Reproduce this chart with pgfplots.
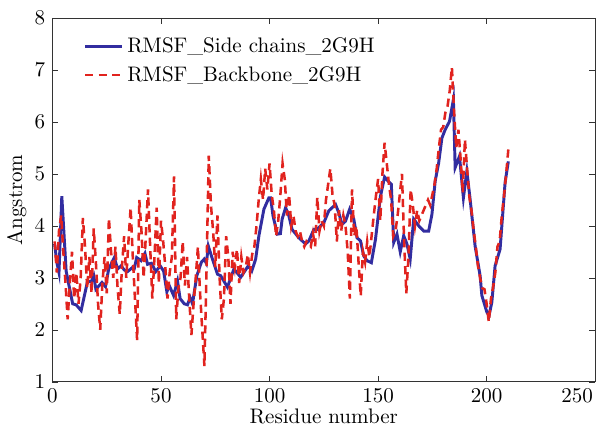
\documentclass[border=0pt]{standalone}
\usepackage{pgfplots}
\pgfplotsset{compat=1.18}
\definecolor{sideblue}{RGB}{50,45,160}
\definecolor{bbred}{RGB}{225,35,30}
\begin{document}
\begin{tikzpicture}
\begin{axis}[
  name=ax,
  scale only axis,
  width=9.07cm, height=6.08cm,
  xmin=0, xmax=250, ymin=1, ymax=8,
  xtick={0,50,...,200}, ytick={1,2,...,8},
  extra x ticks={250},
  extra x tick style={xticklabel style={xshift=-0.3cm}},
  tick align=inside, major tick length=0.1cm,
  xlabel={Residue number}, ylabel={Angstrom},
  xlabel style={yshift=4pt}, ylabel style={yshift=-3pt},
  axis line style={black!80}, tick style={black!80},
  legend style={at={(0.045,0.97)}, anchor=north west, draw=none, fill=none,
    row sep=1pt, font=\normalsize},
  legend cell align=left,
  legend image code/.code={\draw[#1] (0.05cm,0cm) -- (0.66cm,0cm);}]
\addplot[sideblue, line width=1.4pt] coordinates {
(1,3.65)(2,3.3)(3,3.1)(4.3,4.57)(6.3,3.13)(7,2.98)(9.3,2.5)(10.9,2.48)(13.2,2.37)
(16.2,2.94)(17.8,2.92)(19,3.04)(20,2.78)(22.8,2.91)(24.4,2.83)(25.9,3.17)(28.5,3.39)
(30,3.17)(31.6,3.23)(33.1,3.15)(34.6,3.12)(36.9,3.2)(37.7,3.18)(38.8,3.39)(40.8,3.33)
(42.6,3.47)(43.8,3.26)(45.6,3.28)(47.6,3.12)(49.6,3.23)(51.2,3.13)(52.7,2.73)(53.8,2.85)
(55.8,2.66)(57.6,2.94)(58.8,2.6)(60.7,2.5)(62.2,2.48)(63.4,2.62)(64.5,2.5)(66.5,3.04)
(68.6,3.3)(69.9,3.36)(70.9,3.28)(71.8,3.61)(73.7,3.36)(76,3.07)(77.5,3.04)(80.6,2.82)
(83.6,3.17)(86.7,3.01)(90.2,3.23)(91.8,3.13)(93.6,3.36)(95.1,3.81)(97.4,4.32)(99.7,4.54)
(100.5,4.54)(101.6,4.19)(103.6,3.84)(105,3.85)(105.8,4.13)(107.4,4.35)(108.9,4.19)
(110.4,3.93)(113.5,3.77)(116.6,3.65)(118.1,3.71)(120.4,3.93)(121.9,3.93)(125,4.06)
(127.3,4.29)(130.4,4.41)(131.9,4.25)(133.4,4.03)(135,4.09)(136.9,4.32)(138.8,4.13)
(140.3,3.77)(141.9,3.71)(143.4,3.42)(144.9,3.33)(146.9,3.29)(148.8,3.74)(151.1,4.57)
(153,4.94)(154.6,4.86)(156.1,4.80)(157.2,3.68)(158.7,3.84)(160.2,3.50)(161.8,3.81)
(163.3,3.65)(164.8,3.36)(166.4,4.13)(168.7,4.0)(171,3.9)(173.3,3.9)(174.8,4.22)
(176.3,4.86)(177.9,5.21)(179.4,5.69)(180.9,5.85)(182.9,6.01)(184.7,6.43)(185.5,5.12)
(187.5,5.34)(189.3,4.54)(190.9,5.05)(192.4,4.51)(194.7,3.61)(197,3.04)(197.8,2.66)
(200.1,2.34)(201.1,2.27)(202.4,2.53)(203.9,3.23)(206.2,3.55)(208.5,4.83)(210,5.24)};
\addlegendentry{RMSF\_Side chains\_2G9H}
\addplot[bbred, line width=1.2pt, dash pattern=on 3.9pt off 2.5pt] table {
1 3.7
2 3.1
3 3.9
4 4.2
5 3.5
6 2.9
7 2.2
8 2.9
9 3.5
10 2.6
11 3.1
12 2.5
13 3.0
14 4.15
15 3.6
16 2.8
17 3.4
18 2.7
19 3.95
20 3.3
21 2.5
22 2.0
23 2.9
24 3.4
25 2.7
26 4.15
27 3.5
28 3.0
29 3.6
30 2.8
31 2.3
32 3.2
33 3.8
34 3.0
35 3.7
36 4.35
37 3.4
38 2.6
39 1.8
40 4.5
41 3.9
42 3.0
43 3.8
44 4.7
45 3.6
46 2.6
47 3.4
48 4.35
49 2.9
50 4.1
51 3.7
52 3.2
53 2.6
54 3.1
55 3.4
56 4.95
57 2.2
58 2.8
59 3.0
60 3.7
61 2.85
62 3.4
63 2.6
64 1.9
65 2.5
66 3.0
67 3.6
68 2.7
69 2.0
70 1.3
71 3.2
72 5.35
73 4.4
74 3.9
75 3.2
76 4.2
77 3.0
78 2.2
79 2.6
80 3.8
81 3.4
82 2.5
83 3.5
84 3.2
85 3.55
86 2.9
87 3.4
88 3.1
89 3.2
90 3.45
91 3.1
92 3.45
93 3.6
94 4.0
95 4.5
96 4.9
97 4.5
98 5.1
99 4.7
100 5.2
101 4.6
102 4.3
103 3.8
104 4.1
105 4.6
106 5.2
107 4.9
108 4.2
109 4.6
110 4.0
111 4.2
112 3.9
113 3.8
114 3.9
115 3.7
116 3.6
117 3.7
118 3.65
119 3.6
120 3.85
121 3.6
122 4.55
123 3.9
124 4.1
125 4.0
126 4.5
127 4.8
128 5.1
129 4.6
130 4.4
131 3.7
132 4.3
133 3.9
134 4.2
135 4.0
136 3.5
137 2.6
138 4.7
139 3.8
140 4.0
141 3.3
142 2.65
143 3.5
144 3.3
145 3.7
146 3.4
147 3.8
148 4.2
149 4.57
150 4.9
151 4.1
152 5.0
153 5.6
154 5.2
155 4.8
156 4.5
157 3.8
158 3.9
159 4.2
160 4.6
161 5.0
162 3.7
163 2.7
164 3.4
165 4.7
166 4.4
167 4.0
168 4.3
169 4.1
170 4.2
171 4.3
172 4.4
173 4.5
174 4.4
175 4.6
176 4.8
177 5.1
178 5.5
179 5.85
180 5.9
181 6.18
182 6.3
183 6.6
184 7.05
185 6.2
186 5.5
187 5.85
188 5.3
189 4.64
190 5.66
191 5.1
192 4.57
193 4.3
194 3.93
195 3.6
196 3.23
197 3.0
198 2.8
199 2.78
200 2.5
201 2.15
202 2.6
203 2.82
204 3.1
205 3.6
206 3.7
207 4.2
208 4.57
209 5.0
210 5.47
};
\addlegendentry{RMSF\_Backbone\_2G9H}
\end{axis}
\path (ax.north) ++(0,0.3cm);
\end{tikzpicture}
\end{document}
